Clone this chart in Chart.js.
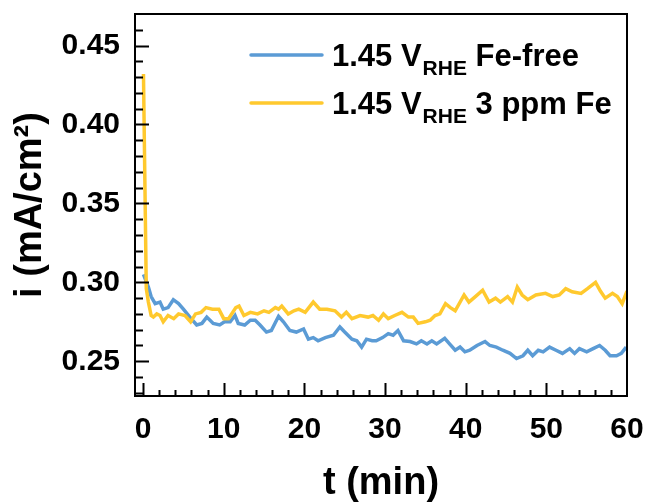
<!DOCTYPE html>
<html>
<head>
<meta charset="utf-8">
<script src="https://cdn.jsdelivr.net/npm/chart.js@4"></script>
<style>
  html, body { margin: 0; padding: 0; background: #fff; }
  #wrap { width: 649px; height: 503px; }
</style>
</head>
<body>
<div id="wrap"><canvas id="chart" width="649" height="503"></canvas></div>
<script>
// ---------- data ----------
const seriesLabels = ['1.45 V_{RHE} Fe-free', '1.45 V_{RHE} 3 ppm Fe'];

const tFeFree = [0.05, 0.66, 1.0, 1.5, 2.1, 2.5, 3.1, 3.75, 4.4, 5.0, 5.8, 6.65, 7.3, 7.9, 8.7, 9.5,
  10.1, 10.8, 11.4, 11.8, 12.6, 13.3, 13.9, 14.5, 15.3, 15.9, 16.8, 17.4, 18.2, 19.0, 19.9,
  20.5, 21.1, 21.7, 22.6, 23.6, 24.4, 25.0, 25.9, 26.5, 27.1, 27.7, 28.4, 28.9, 29.7,
  30.4, 31.0, 31.6, 32.3, 33.1, 33.9, 34.5, 35.2, 35.8, 36.4, 37.4, 38.0, 38.7, 39.3, 39.9,
  40.5, 41.4, 42.4, 43.0, 43.8, 44.6, 45.5, 46.3, 47.1, 47.7, 48.3, 49.0, 49.6,
  50.4, 51.2, 52.0, 52.9, 53.5, 54.1, 55.0, 55.8, 56.6, 57.3, 57.9, 58.7, 59.3, 59.9];
const iFeFree = [0.305, 0.297, 0.291, 0.2865, 0.2875, 0.283, 0.284, 0.289, 0.2865, 0.283, 0.278, 0.273, 0.274, 0.278, 0.274, 0.273,
  0.275, 0.275, 0.279, 0.274, 0.273, 0.276, 0.276, 0.273, 0.2685, 0.2695, 0.2785, 0.275, 0.2695, 0.2685, 0.2705,
  0.264, 0.265, 0.263, 0.265, 0.2665, 0.2717, 0.2685, 0.264, 0.263, 0.259, 0.264, 0.263, 0.263, 0.265,
  0.2675, 0.2665, 0.2695, 0.263, 0.2625, 0.261, 0.263, 0.261, 0.263, 0.261, 0.2645, 0.261, 0.257, 0.259, 0.256,
  0.257, 0.260, 0.2625, 0.260, 0.259, 0.257, 0.255, 0.2517, 0.2535, 0.257, 0.2535, 0.257, 0.256,
  0.259, 0.257, 0.255, 0.258, 0.255, 0.258, 0.256, 0.258, 0.260, 0.257, 0.2535, 0.2535, 0.255, 0.259];

const t3ppm = [0.05, 0.4, 0.66, 1.0, 1.28, 1.7, 2.1, 2.5, 3.1, 3.8, 4.4, 5.2, 5.9, 6.5, 7.2, 7.8, 8.6, 9.4,
  10.0, 10.6, 11.5, 11.9, 12.5, 13.3, 14.2, 15.0, 15.6, 16.4, 16.8, 17.2, 18.0, 18.7, 19.3,
  20.1, 21.1, 21.9, 22.8, 23.8, 24.6, 25.2, 25.9, 26.9, 27.9, 28.5, 29.2, 29.8,
  30.4, 31.2, 32.1, 32.9, 33.5, 34.1, 35.0, 35.6, 36.2, 36.8, 37.5, 38.1, 38.7, 39.8,
  40.4, 41.2, 42.1, 42.9, 43.7, 44.3, 45.2, 45.8, 46.4, 47.0, 47.7, 48.7, 49.9,
  50.8, 51.6, 52.4, 53.2, 54.3, 55.1, 56.1, 56.7, 57.3, 58.2, 58.8, 59.4, 60.0];
const i3ppm = [0.432, 0.296, 0.2875, 0.279, 0.278, 0.280, 0.279, 0.275, 0.279, 0.277, 0.280, 0.279, 0.275, 0.280, 0.281, 0.284, 0.283, 0.283,
  0.277, 0.277, 0.284, 0.285, 0.279, 0.281, 0.280, 0.282, 0.281, 0.284, 0.283, 0.285, 0.280, 0.282, 0.283,
  0.281, 0.2875, 0.283, 0.283, 0.282, 0.278, 0.281, 0.277, 0.279, 0.278, 0.279, 0.276, 0.280,
  0.277, 0.279, 0.281, 0.278, 0.278, 0.274, 0.275, 0.276, 0.279, 0.280, 0.2865, 0.284, 0.282, 0.292,
  0.2875, 0.291, 0.295, 0.2875, 0.290, 0.2875, 0.291, 0.2875, 0.297, 0.292, 0.289, 0.292, 0.293,
  0.291, 0.292, 0.296, 0.294, 0.293, 0.296, 0.300, 0.2945, 0.290, 0.293, 0.291, 0.2865, 0.2945];

const xTicks = [0, 10, 20, 30, 40, 50, 60];
const yTicks = [0.25, 0.30, 0.35, 0.40, 0.45];

// ---------- style ----------
const FONT = "'Liberation Sans', Arial, Helvetica, sans-serif";
const BLUE = '#5b9bd5';
const YELLOW = '#ffc92e';

const toPoints = (xs, ys) => xs.map((x, k) => ({ x: x, y: ys[k] }));

// inward ticks + box frame
const frameTicks = {
  id: 'frameTicks',
  afterDraw(chart) {
    const { ctx, chartArea: a, scales } = chart;
    const xs = scales.x, ys = scales.y;
    ctx.save();
    ctx.strokeStyle = '#000';
    ctx.lineWidth = 2;
    ctx.strokeRect(a.left, a.top, a.right - a.left, a.bottom - a.top);
    ctx.beginPath();
    // y: minor every 0.01, major at labels
    for (let k = Math.ceil(ys.min * 100); k <= Math.floor(ys.max * 100); k++) {
      const v = k / 100;
      const p = Math.round(ys.getPixelForValue(v)) + 0.5;
      if (p <= a.top + 2 || p >= a.bottom - 2) continue;
      const major = yTicks.some(t => Math.abs(t - v) < 1e-6);
      ctx.moveTo(a.left, p);
      ctx.lineTo(a.left + (major ? 14 : 8), p);
    }
    // x: minor every 2, major at labels
    for (let v = Math.ceil(xs.min / 2) * 2; v <= xs.max; v += 2) {
      const p = Math.round(xs.getPixelForValue(v)) + 0.5;
      if (p <= a.left + 2 || p >= a.right - 2) continue;
      const major = xTicks.includes(v);
      ctx.moveTo(p, a.bottom);
      ctx.lineTo(p, a.bottom - (major ? 13 : 6));
    }
    ctx.stroke();
    ctx.restore();
  }
};

// legend with subscript text
const subLegend = {
  id: 'subLegend',
  afterDraw(chart) {
    const { ctx, chartArea: a } = chart;
    ctx.save();
    chart.data.datasets.map((ds, k) => ({ ds, k }))
      .sort((p, q) => p.ds.legendIndex - q.ds.legendIndex)
      .forEach(({ ds }, row) => {
        const y = a.top + 41 + row * 48;
        ctx.strokeStyle = ds.borderColor;
        ctx.lineWidth = 3.5;
        ctx.lineCap = 'round';
        ctx.beginPath();
        ctx.moveTo(a.left + 116, y);
        ctx.lineTo(a.left + 187, y);
        ctx.stroke();

        const m = ds.label.match(/^(.*?)_\{(.*?)\}(.*)$/);
        const parts = m ? [m[1], m[2], m[3]] : [ds.label, '', ''];
        let x = a.left + 197;
        const base = y + 11;
        ctx.fillStyle = '#000';
        ctx.textBaseline = 'alphabetic';
        ctx.font = 'bold 31px ' + FONT;
        ctx.fillText(parts[0], x, base);
        x += ctx.measureText(parts[0]).width;
        ctx.font = 'bold 21px ' + FONT;
        ctx.fillText(parts[1], x + 1, base + 9);
        x += ctx.measureText(parts[1]).width + 1;
        ctx.font = 'bold 31px ' + FONT;
        ctx.fillText(parts[2], x, base);
      });
    ctx.restore();
  }
};

const chart = new Chart(document.getElementById('chart'), {
  type: 'line',
  data: {
    datasets: [
      {
        label: seriesLabels[1],
        data: toPoints(t3ppm, i3ppm),
        borderColor: YELLOW,
        borderWidth: 3.5,
        pointRadius: 0,
        tension: 0,
        order: 0,
        legendIndex: 1
      },
      {
        label: seriesLabels[0],
        data: toPoints(tFeFree, iFeFree),
        borderColor: BLUE,
        borderWidth: 3.5,
        pointRadius: 0,
        tension: 0,
        order: 1,
        legendIndex: 0
      }
    ]
  },
  options: {
    responsive: false,
    animation: false,
    layout: { padding: { top: 14, right: 22, left: 0, bottom: 0 } },
    plugins: { legend: { display: false }, tooltip: { enabled: false } },
    scales: {
      x: {
        type: 'linear',
        min: -1,
        max: 60,
        afterBuildTicks: s => { s.ticks = xTicks.map(v => ({ value: v })); },
        afterFit: s => { s.height = 107; s.paddingLeft = 0; s.paddingRight = 0; },
        grid: { display: false, drawTicks: false },
        border: { display: false },
        ticks: {
          color: '#000',
          padding: 16,
          maxRotation: 0,
          autoSkip: false,
          font: { family: FONT, size: 30, weight: 'bold' }
        },
        title: {
          display: true,
          text: 't (min)',
          color: '#000',
          padding: { top: 0, bottom: 0 },
          font: { family: FONT, size: 38, weight: 'bold', lineHeight: 1 }
        }
      },
      y: {
        type: 'linear',
        min: 0.228,
        max: 0.47,
        afterBuildTicks: s => { s.ticks = yTicks.map(v => ({ value: v })); },
        afterFit: s => { s.width = 135; s.paddingTop = 0; s.paddingBottom = 0; },
        grid: { display: false, drawTicks: false },
        border: { display: false },
        ticks: {
          color: '#000',
          padding: 15,
          autoSkip: false,
          callback: v => v.toFixed(2),
          font: { family: FONT, size: 30, weight: 'bold' }
        },
        title: {
          display: true,
          text: 'i (mA/cm²)',
          color: '#000',
          padding: { top: 12, bottom: 0 },
          font: { family: FONT, size: 38, weight: 'bold', lineHeight: 1 }
        }
      }
    }
  },
  plugins: [frameTicks, subLegend]
});
</script>
</body>
</html>
